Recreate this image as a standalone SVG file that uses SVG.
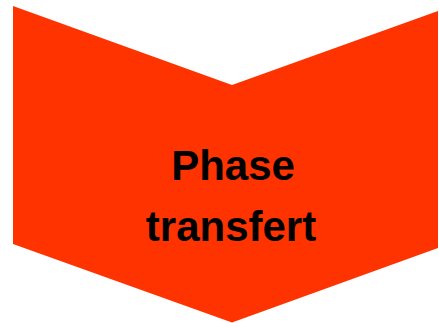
<svg xmlns="http://www.w3.org/2000/svg" width="439" height="323" viewBox="0 0 439 323">
<style>
.shape{fill:#FF3300;stroke:none}
.label{font-family:"Liberation Sans",Arial,sans-serif;font-weight:bold;font-size:42px;fill:#000;text-anchor:middle}
</style>
<g id="chevron">
<polygon class="shape" points="13,6 232,85 438,11 438,248 232,322.5 13,244"/>
<text class="label" x="233" y="180">Phase</text>
<text class="label" x="231" y="241">transfert</text>
</g>
</svg>
